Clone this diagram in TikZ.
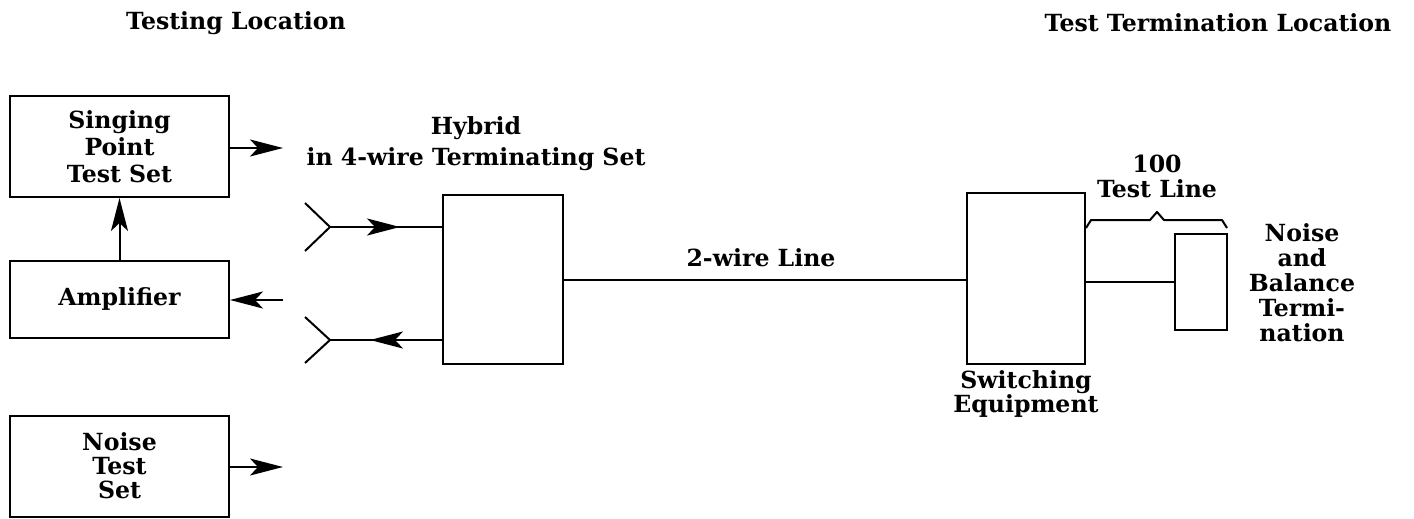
\documentclass[tikz,border=0pt]{standalone}
\usepackage{fontspec}
\setmainfont{DejaVu Serif}
\usetikzlibrary{arrows.meta}
\begin{document}
\begin{tikzpicture}[x=0.5pt,y=-0.5pt,
  txt/.style={font=\fontsize{11.8}{12.5}\selectfont\bfseries,align=center,inner sep=0pt},
  box/.style={draw,line width=1pt,inner sep=0pt,align=center,font=\fontsize{11.8}{12.5}\selectfont\bfseries},
  ln/.style={line width=1pt},
  arr/.style={line width=1pt,-{Stealth[length=16.5pt,width=8.5pt,inset=4pt]}},
]
\useasboundingbox (0,0) rectangle (1414,519);
% boxes
\node[box,minimum width=109.5pt,minimum height=50.5pt,font=\fontsize{11.8}{13.5}\selectfont\bfseries] (sp) at (119.5,146.5) {Singing\\Point\\Test Set};
\node[box,minimum width=109.5pt,minimum height=38.5pt] (amp) at (119.5,299) {Amplifier};
\node[box,minimum width=109.5pt,minimum height=50.5pt,font=\fontsize{11.8}{12}\selectfont\bfseries] (nts) at (119.5,466) {Noise\\Test\\Set};
\node[box,minimum width=60pt,minimum height=84.5pt] (hyb) at (503,279.5) {};
\node[box,minimum width=59pt,minimum height=85.5pt] (sw) at (1026,278.5) {};
\node[box,minimum width=26pt,minimum height=48pt] (nb) at (1201,282) {};
% labels
\node[txt] (tl) at (236,23) {Testing Location};
\node[txt] (ttl) at (1218,23) {Test Termination Location};
\node[txt] (hy) at (476,128) {Hybrid};
\node[txt] (hy2) at (476,159) {in 4-wire Terminating Set};
\node[txt] (twl) at (761,258) {2-wire Line};
\node[txt,font=\fontsize{11.8}{12}\selectfont\bfseries] (swl) at (1026,394) {Switching\\Equipment};
\node[txt] (tln) at (1157,176) {100\\Test Line};
\node[txt] (nbl) at (1302,283) {Noise\\and\\Balance\\Termi-\\nation};
% arrows at left
\coordinate (spo) at (283,148);
\draw[arr] (sp.east |- spo) -- (spo);
\draw[arr] (amp.north) -- (sp.south);
\coordinate (ampi) at (283,300);
\draw[arr] (ampi) -- (amp.east |- ampi);
\coordinate (ntso) at (283,467);
\draw[arr] (nts.east |- ntso) -- (ntso);
% jacks
\coordinate (j1) at (330,227);
\coordinate (j1u) at (305,203);
\coordinate (j1d) at (305,251);
\draw[ln] (j1u) -- (j1) -- (j1d);
\draw[ln] (j1) -- (j1 -| hyb.west);
\coordinate (j1a) at (400,227);
\draw[arr] (j1) -- (j1a);
\coordinate (j2) at (330,340);
\coordinate (j2u) at (305,317);
\coordinate (j2d) at (305,363);
\draw[ln] (j2u) -- (j2) -- (j2d);
\draw[ln] (j2) -- (j2 -| hyb.west);
\coordinate (j2a) at (370,340);
\draw[arr] (j2 -| hyb.west) -- (j2a);
% lines
\draw[ln] (hyb.east) -- (hyb.east -| sw.west);
\draw[ln] (sw.east |- nb.west) -- (nb.west);
% brace
\draw[ln,line join=round] (1086,228) -- (1091,220) -- (1150,220) -- (1157,212) -- (1164,220) -- (1222,220) -- (1227,228);
\end{tikzpicture}
\end{document}
